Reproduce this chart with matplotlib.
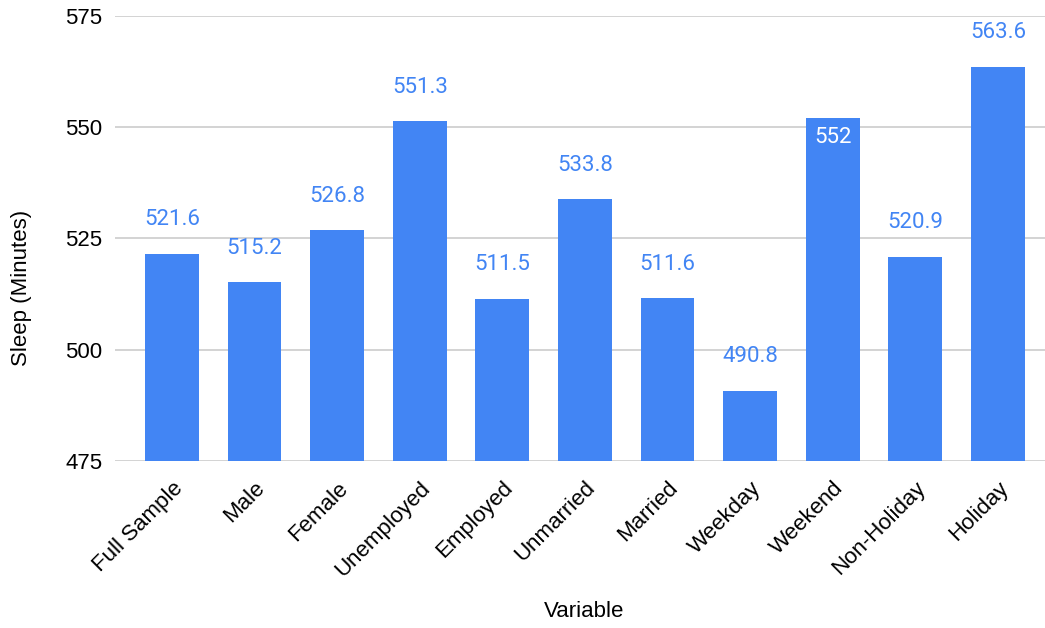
import matplotlib
matplotlib.use("Agg")
import matplotlib.pyplot as plt

categories = ["Full Sample", "Male", "Female", "Unemployed", "Employed", "Unmarried",
              "Married", "Weekday", "Weekend", "Non-Holiday", "Holiday"]
values = [521.6, 515.2, 526.8, 551.3, 511.5, 533.8, 511.6, 490.8, 552, 520.9, 563.6]
labels = ["521.6", "515.2", "526.8", "551.3", "511.5", "533.8", "511.6", "490.8", "552", "520.9", "563.6"]
label_inside = [False, False, False, False, False, False, False, False, True, False, False]
yticks = [475, 500, 525, 550, 575]

BLUE = "#4285F4"

fig = plt.figure(figsize=(10.45, 6.28), dpi=100)
ax = fig.add_axes([0.110, 0.266, 0.890, 0.7085])

ymin, ymax = 475, 575
x = list(range(len(categories)))
ax.bar(x, [v - ymin for v in values], bottom=ymin, width=0.65, color=BLUE, zorder=3)

for xi, v, lab, inside in zip(x, values, labels, label_inside):
    if inside:
        ax.text(xi, v - 4.4, lab, ha="center", va="center", color="white",
                fontsize=16, family=["Roboto", "DejaVu Sans"], zorder=4)
    else:
        ax.text(xi, v + 7.6, lab, ha="center", va="center", color=BLUE,
                fontsize=16, family=["Roboto", "DejaVu Sans"], zorder=4)

ax.set_ylim(ymin, ymax)
ax.set_xlim(-0.69, 10.57)
ax.set_yticks(yticks)
ax.set_yticklabels([str(t) for t in yticks], fontsize=16, family="Liberation Sans")
ax.set_xticks(x)
ax.set_xticklabels(categories, rotation=45, ha="right", rotation_mode="anchor",
                   fontsize=16, family="Liberation Sans")
ax.tick_params(axis="both", length=0)
ax.tick_params(axis="y", pad=9)
ax.tick_params(axis="x", pad=12)
ax.grid(axis="y", color="#cccccc", linewidth=1.2, zorder=0)
for s in ax.spines.values():
    s.set_visible(False)

fig.text(0.021, 0.541, "Sleep (Minutes)", rotation=90, ha="center", va="center",
         fontsize=16, family="Liberation Sans")
fig.text(0.559, 0.0255, "Variable", ha="center", va="center",
         fontsize=16, family="Liberation Sans")

fig.savefig("out.png", dpi=100)
